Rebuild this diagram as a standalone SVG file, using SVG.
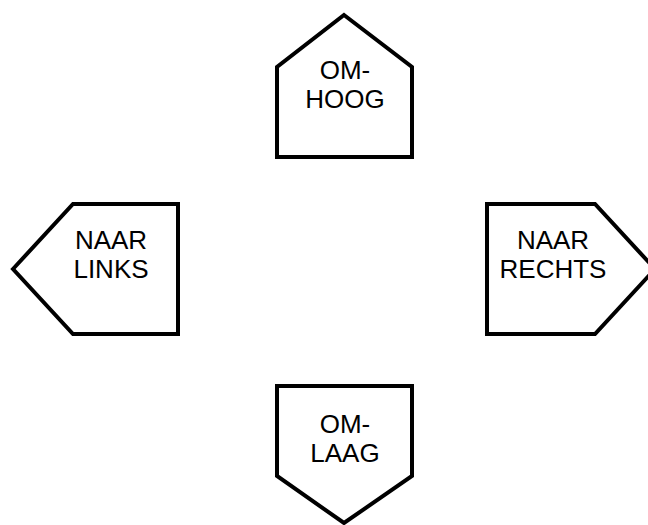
<svg xmlns="http://www.w3.org/2000/svg" width="648" height="525" viewBox="0 0 648 525">
<style>
.s{fill:#fff;stroke:#000;stroke-width:4;stroke-linejoin:miter}
.t{font-family:"Liberation Sans",Arial,sans-serif;font-size:26px;fill:#000;text-anchor:middle}
</style>
<rect width="648" height="525" fill="#fff"/>
<g id="connectors"></g>
<g id="up">
<polygon class="s" points="344,15 412,67 412,157 277,157 277,67"/>
<text class="t" x="345" y="79">OM-</text>
<text class="t" x="345" y="108">HOOG</text>
</g>
<g id="left">
<polygon class="s" points="13,269 73,204 178,204 178,334 73,334"/>
<text class="t" x="111" y="249">NAAR</text>
<text class="t" x="111" y="278">LINKS</text>
</g>
<g id="right">
<polygon class="s" points="487,204 595,204 655,269 595,334 487,334"/>
<text class="t" x="553" y="249">NAAR</text>
<text class="t" x="553" y="278">RECHTS</text>
</g>
<g id="down">
<polygon class="s" points="277,386 412,386 412,476 344,523 277,476"/>
<text class="t" x="345" y="433">OM-</text>
<text class="t" x="345" y="462">LAAG</text>
</g>
</svg>
